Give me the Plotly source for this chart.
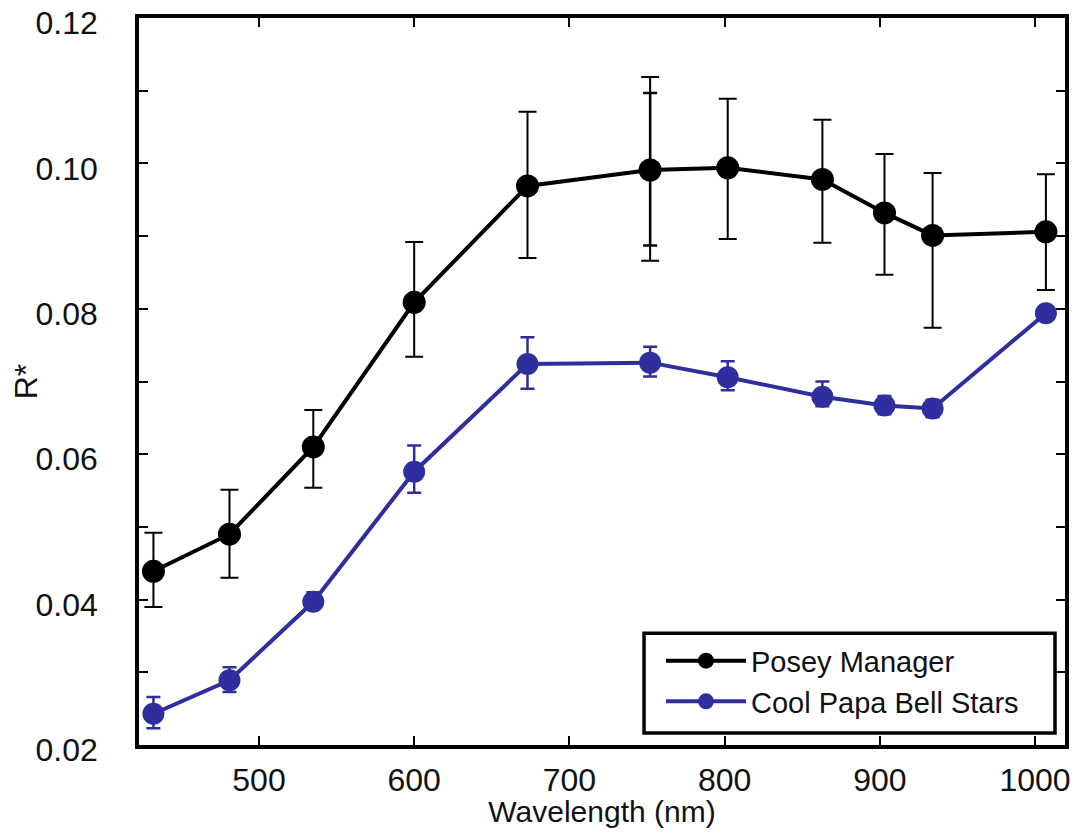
import plotly.graph_objects as go

# ---- data ----
wavelength = [432, 481, 535, 600, 673, 752, 802, 863, 903, 934, 1007]

posey_r = [0.0439, 0.0490, 0.0610, 0.0809, 0.0969, 0.0991, 0.0994, 0.0978, 0.0932, 0.0901, 0.0906]
posey_hi = [0.0492, 0.0551, 0.0661, 0.0892, 0.1071, 0.1119, 0.1089, 0.1060, 0.1013, 0.0987, 0.0985]
posey_lo = [0.0390, 0.0430, 0.0554, 0.0734, 0.0870, 0.0866, 0.0896, 0.0891, 0.0847, 0.0774, 0.0826]

# second overlapping error bar at ~752 nm
posey_dup_x = [752]
posey_dup_r = [0.0991]
posey_dup_hi = [0.1097]
posey_dup_lo = [0.0887]

bell_r = [0.0243, 0.0289, 0.0397, 0.0576, 0.0724, 0.0726, 0.0706, 0.0679, 0.0667, 0.0663, 0.0794]
bell_hi = [0.0266, 0.0307, 0.0410, 0.0612, 0.0761, 0.0748, 0.0728, 0.0700, 0.0680, 0.0675, 0.0800]
bell_lo = [0.0223, 0.0273, 0.0390, 0.0547, 0.0690, 0.0707, 0.0688, 0.0666, 0.0655, 0.0651, 0.0788]

y_ticks = [0.02, 0.04, 0.06, 0.08, 0.10, 0.12]
x_ticks = [500, 600, 700, 800, 900, 1000]

names = ["Posey Manager", "Cool Papa Bell Stars"]
colors = ["#000000", "#2E2E9E"]

FONT = "Liberation Sans, Arial, sans-serif"
FS = 32


def err(vals, hi, lo):
    return dict(
        type="data", symmetric=False,
        array=[h - v for h, v in zip(hi, vals)],
        arrayminus=[v - l for v, l in zip(vals, lo)],
    )


fig = go.Figure()

fig.add_trace(go.Scatter(
    x=posey_dup_x, y=posey_dup_r, mode="markers", showlegend=False,
    marker=dict(color=colors[0], size=1),
    error_y=dict(**err(posey_dup_r, posey_dup_hi, posey_dup_lo), color=colors[0], thickness=2.5, width=7),
    hoverinfo="skip",
))

fig.add_trace(go.Scatter(
    x=wavelength, y=posey_r, name=names[0], mode="lines+markers",
    line=dict(color=colors[0], width=4),
    marker=dict(color=colors[0], size=23),
    error_y=dict(**err(posey_r, posey_hi, posey_lo), color=colors[0], thickness=2, width=9),
))

fig.add_trace(go.Scatter(
    x=wavelength, y=bell_r, name=names[1], mode="lines+markers",
    line=dict(color=colors[1], width=4),
    marker=dict(color=colors[1], size=22),
    error_y=dict(**err(bell_r, bell_hi, bell_lo), color=colors[1], thickness=2.5, width=7),
))

axis_common = dict(
    showline=True, linecolor="black", linewidth=3.5, mirror="ticks",
    ticks="inside", ticklen=9, tickwidth=2, tickcolor="black",
    showgrid=False, zeroline=False, automargin=False,
    ticklabeloverflow="allow",
    tickfont=dict(family=FONT, size=FS, color="#111"),
)

fig.update_xaxes(
    **axis_common,
    range=[422.7, 1019.3], tickvals=x_ticks,
    ticklabelstandoff=4,
    title=dict(text="Wavelength (nm)", font=dict(family=FONT, size=30, color="#111"), standoff=8),
)

fig.update_yaxes(
    **axis_common,
    range=[0.02, 0.12001], tickvals=y_ticks, tickformat=".2f",
    minor=dict(dtick=0.01, tick0=0.0, ticks="inside", ticklen=9, tickwidth=2, tickcolor="black"),
    ticklabelstandoff=31, ticklabelshift=5,
    title=dict(text="R*", font=dict(family=FONT, size=FS, color="#111"), standoff=6),
)

# legend frame
fig.add_shape(
    type="rect", xref="paper", yref="paper",
    x0=0.5454, x1=0.9892, y0=0.0165, y1=0.1536,
    line=dict(color="black", width=3.5), fillcolor="white", layer="above",
)

fig.update_layout(
    width=1062, height=820,
    margin=dict(l=131, r=5, t=10, b=83),
    plot_bgcolor="white", paper_bgcolor="white",
    font=dict(family=FONT, size=FS, color="#111"),
    legend=dict(
        x=0.5637, y=0.1509, xanchor="left", yanchor="top",
        bgcolor="rgba(0,0,0,0)", borderwidth=0,
        font=dict(family=FONT, size=29, color="#111"),
        itemwidth=80, tracegroupgap=0,
    ),
)

fig.write_html("out.html")
